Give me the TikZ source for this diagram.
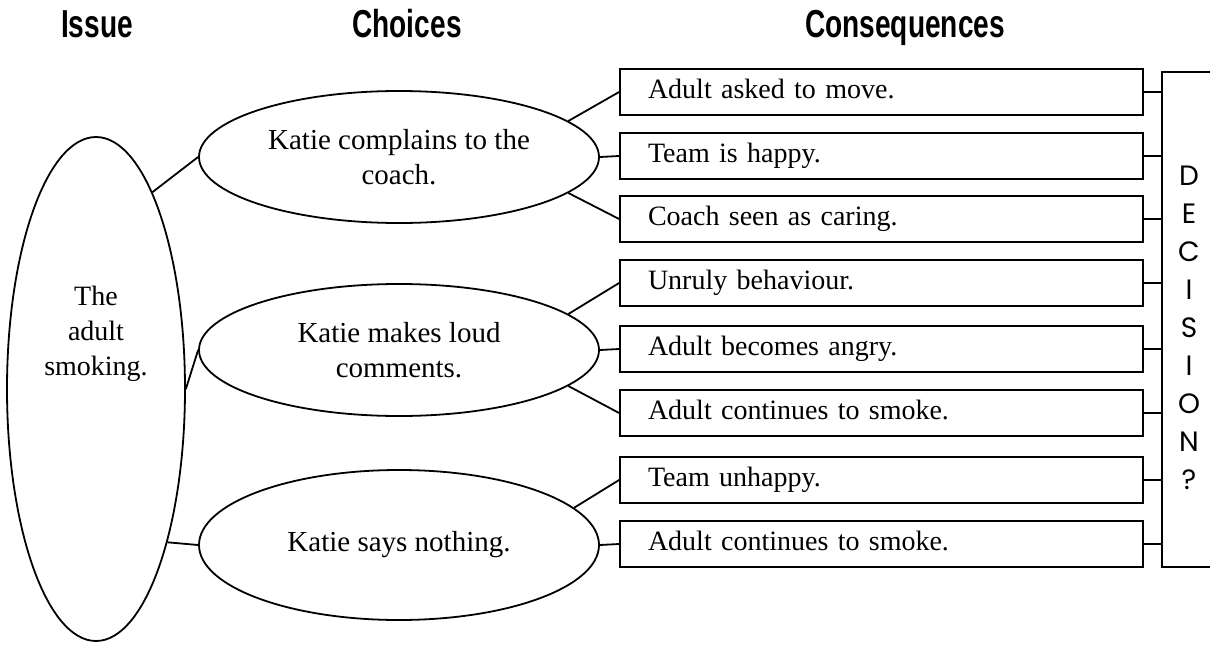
\documentclass[tikz,border=0pt]{standalone}
\usepackage{fontspec}
\setmainfont{Liberation Serif}
\newfontfamily\headfont[FakeStretch=0.72]{Liberation Sans}
\newfontfamily\decfont{Poppins}
\usetikzlibrary{shapes.geometric}

\tikzstyle{head}=[font=\headfont\bfseries\fontsize{39}{40}\selectfont, anchor=base]
\tikzstyle{choice}=[ellipse, draw, line width=1.8pt, minimum width=400pt, minimum height=132pt, align=center, inner sep=0pt, font=\fontsize{29}{35}\selectfont]
\tikzstyle{conseq}=[rectangle, draw, line width=1.8pt, minimum height=46pt, text width=467pt, text height=19pt, text depth=6pt, align=left, inner xsep=28pt, inner ysep=0pt]
\tikzstyle{link}=[line width=1.8pt]

\begin{document}
\begin{tikzpicture}[x=1pt, y=-1pt, font=\fontsize{28}{35}\selectfont]
        \useasboundingbox (0,0) rectangle (1210,645);
        \node[head] (hissue) at (97,37) {Issue};
        \node[head] (hchoice) at (407,37) {Choices};
        \node[head] (hconseq) at (905,37) {Consequences};

        \node[ellipse, draw, line width=1.8pt, minimum width=178pt, minimum height=504pt, inner sep=0pt] (issue) at (96,389) {};
        \node[align=center] (issuetext) at (96,334) {The\\adult\\smoking.};

        \node[choice] (c1) at (399,157) {Katie complains to the\\coach.};
        \node[choice] (c2) at (399,350) {Katie makes loud\\comments.};
        \node[choice, minimum height=150pt] (c3) at (399,545) {Katie says nothing.};

	\node[conseq] (k1) at (881.5,92) {Adult asked to move.};
	\node[conseq] (k2) at (881.5,156) {Team is happy.};
	\node[conseq] (k3) at (881.5,219) {Coach seen as caring.};
	\node[conseq] (k4) at (881.5,283) {Unruly behaviour.};
	\node[conseq] (k5) at (881.5,349) {Adult becomes angry.};
	\node[conseq] (k6) at (881.5,413) {Adult continues to smoke.};
	\node[conseq] (k7) at (881.5,480) {Team unhappy.};
	\node[conseq] (k8) at (881.5,544) {Adult continues to smoke.};

	\node[draw, line width=1.8pt, minimum width=100pt, minimum height=495pt, inner sep=0pt] (dec) at (1212,319.5) {};
	\node[font=\decfont\fontsize{28}{38}\selectfont, align=center] (dectext) at (1189,327.5) {D\\E\\C\\I\\S\\I\\O\\N\\?};

        \draw[link] (issue.74) -- (c1.west);
        \draw[link] (issue.east) -- (c2.west);
        \draw[link] (issue.-65) -- (c3.west);

	\draw[link] (c1.12) -- (k1.west);
	\draw[link] (c1.east) -- (k2.west);
	\draw[link] (c1.-12) -- (k3.west);
	\draw[link] (c2.12) -- (k4.west);
	\draw[link] (c2.east) -- (k5.west);
	\draw[link] (c2.-12) -- (k6.west);
	\draw[link] (c3.12) -- (k7.west);
	\draw[link] (c3.east) -- (k8.west);

	\draw[link] (k1.east) -- (k1.east -| dec.west);
	\draw[link] (k2.east) -- (k2.east -| dec.west);
	\draw[link] (k3.east) -- (k3.east -| dec.west);
	\draw[link] (k4.east) -- (k4.east -| dec.west);
	\draw[link] (k5.east) -- (k5.east -| dec.west);
	\draw[link] (k6.east) -- (k6.east -| dec.west);
	\draw[link] (k7.east) -- (k7.east -| dec.west);
	\draw[link] (k8.east) -- (k8.east -| dec.west);
      \end{tikzpicture}
\end{document}
